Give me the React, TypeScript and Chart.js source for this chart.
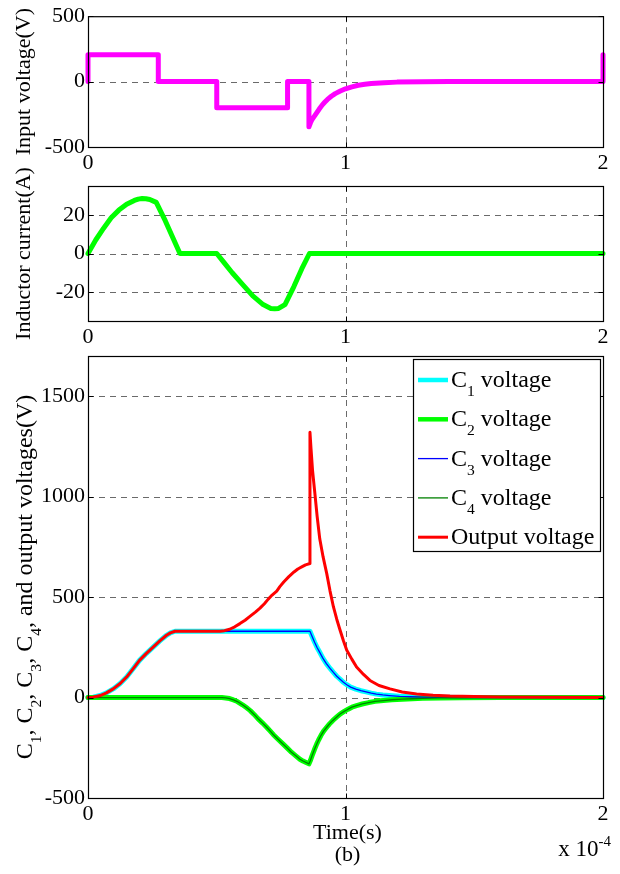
import React, { useEffect, useRef } from "react";
import { Chart, registerables } from "chart.js";

Chart.register(...registerables);

const SERIF = "'Liberation Serif', 'Times New Roman', Times, serif";

// ---------------- data (time axis in units of 1e-4 s) ----------------
const timeTicks = [0, 1, 2];

const inputTicks = [-500, 0, 500];
const inputTime = [0, 0, 0.273, 0.273, 0.5, 0.5, 0.775, 0.775, 0.858, 0.858, 0.864, 0.87, 0.878, 0.886, 0.898, 0.91, 0.92, 0.93, 0.945, 0.96, 0.98, 1.0, 1.025, 1.05, 1.075, 1.1, 1.15, 1.2, 1.3, 1.4, 2, 2];
const inputVoltage = [0, 205, 205, 0, 0, -200, -200, 0, 0, -345, -315, -290, -268, -245, -210, -178, -156, -136, -112, -92, -72, -55, -40, -28, -21, -15, -8, -4, -1, 0, 0, 205];

const currentTicks = [-20, 0, 20];
const currentTime = [0, 0.03, 0.06, 0.09, 0.12, 0.15, 0.18, 0.195, 0.21, 0.225, 0.24, 0.265, 0.3, 0.33, 0.357, 0.5, 0.53, 0.56, 0.6, 0.64, 0.68, 0.71, 0.725, 0.74, 0.765, 0.8, 0.83, 0.86, 2];
const inductorCurrent = [0, 7, 13, 18.5, 22.5, 25.5, 27.5, 28.2, 28.5, 28.4, 28, 26.5, 17, 8, 0, 0, -5, -10, -16, -22, -26.5, -28.5, -28.7, -28.5, -26.5, -17, -8, 0, 0];

const voltageTicks = [-500, 0, 500, 1000, 1500];
const c1Time = [0, 0.02, 0.047, 0.07, 0.098, 0.125, 0.15, 0.175, 0.2, 0.227, 0.254, 0.28, 0.305, 0.32, 0.338, 0.862, 0.87, 0.88, 0.89, 0.9, 0.912, 0.925, 0.94, 0.953, 0.966, 0.98, 0.992, 1.005, 1.02, 1.04, 1.06, 1.08, 1.1, 1.12, 1.145, 1.17, 1.21, 1.25, 1.3, 1.35, 1.45, 2];
const c1Voltage = [0, 2, 10, 22, 43, 70, 102, 143, 185, 220, 252, 283, 310, 322, 330, 330, 305, 275, 248, 225, 196, 170, 145, 125, 106, 90, 76, 64, 52, 42, 34, 28, 22, 17, 13, 10, 6, 4, 2, 1, 0, 0];
const c2Time = [0, 0.52, 0.535, 0.55, 0.565, 0.58, 0.6, 0.615, 0.63, 0.645, 0.66, 0.677, 0.694, 0.707, 0.72, 0.74, 0.758, 0.775, 0.79, 0.807, 0.823, 0.835, 0.845, 0.858, 0.864, 0.87, 0.879, 0.888, 0.896, 0.905, 0.915, 0.927, 0.938, 0.95, 0.965, 0.979, 0.995, 1.01, 1.025, 1.043, 1.065, 1.09, 1.115, 1.147, 1.18, 1.22, 1.26, 1.3, 1.37, 1.45, 1.6, 2];
const c2Voltage = [0, 0, -2, -5, -12, -20, -36, -50, -65, -84, -105, -126, -148, -166, -185, -210, -232, -253, -272, -290, -307, -316, -322, -330, -312, -290, -260, -232, -210, -188, -167, -148, -131, -115, -98, -82, -69, -58, -48, -40, -32, -25, -19, -15, -11, -8, -6, -4, -2, -1, 0, 0];
const c3Time = [0, 0.02, 0.047, 0.07, 0.098, 0.125, 0.15, 0.175, 0.2, 0.227, 0.254, 0.28, 0.305, 0.32, 0.338, 0.862, 0.87, 0.88, 0.89, 0.9, 0.912, 0.925, 0.94, 0.953, 0.966, 0.98, 0.992, 1.005, 1.02, 1.04, 1.06, 1.08, 1.1, 1.12, 1.145, 1.17, 1.21, 1.25, 1.3, 1.35, 1.45, 2];
const c3Voltage = [0, 2, 10, 22, 43, 70, 102, 143, 185, 220, 252, 283, 310, 322, 330, 330, 305, 275, 248, 225, 196, 170, 145, 125, 106, 90, 76, 64, 52, 42, 34, 28, 22, 17, 13, 10, 6, 4, 2, 1, 0, 0];
const c4Time = [0, 0.52, 0.535, 0.55, 0.565, 0.58, 0.6, 0.615, 0.63, 0.645, 0.66, 0.677, 0.694, 0.707, 0.72, 0.74, 0.758, 0.775, 0.79, 0.807, 0.823, 0.835, 0.845, 0.858, 0.864, 0.87, 0.879, 0.888, 0.896, 0.905, 0.915, 0.927, 0.938, 0.95, 0.965, 0.979, 0.995, 1.01, 1.025, 1.043, 1.065, 1.09, 1.115, 1.147, 1.18, 1.22, 1.26, 1.3, 1.37, 1.45, 1.6, 2];
const c4Voltage = [0, 0, -2, -5, -12, -20, -36, -50, -65, -84, -105, -126, -148, -166, -185, -210, -232, -253, -272, -290, -307, -316, -322, -330, -312, -290, -260, -232, -210, -188, -167, -148, -131, -115, -98, -82, -69, -58, -48, -40, -32, -25, -19, -15, -11, -8, -6, -4, -2, -1, 0, 0];
const outputTime = [0, 0.02, 0.047, 0.07, 0.098, 0.125, 0.15, 0.175, 0.2, 0.227, 0.254, 0.28, 0.305, 0.32, 0.338, 0.513, 0.53, 0.55, 0.57, 0.59, 0.61, 0.63, 0.65, 0.668, 0.685, 0.7, 0.715, 0.733, 0.745, 0.76, 0.78, 0.8, 0.815, 0.83, 0.845, 0.862, 0.862, 0.866, 0.872, 0.88, 0.89, 0.9, 0.913, 0.927, 0.94, 0.953, 0.966, 0.979, 0.992, 1.005, 1.025, 1.043, 1.07, 1.095, 1.13, 1.173, 1.22, 1.276, 1.34, 1.406, 1.5, 1.6, 1.8, 2];
const outputVoltage = [0, 2, 10, 22, 43, 70, 102, 143, 185, 220, 252, 283, 310, 322, 330, 330, 333, 340, 352, 368, 385, 405, 425, 445, 467, 490, 510, 530, 552, 575, 602, 625, 640, 650, 660, 667, 1320, 1240, 1130, 1030, 900, 790, 700, 618, 530, 452, 390, 335, 283, 235, 190, 152, 115, 85, 60, 43, 28, 18, 12, 8, 5, 3, 1, 0];

const seriesLabels = ["C1 voltage", "C2 voltage", "C3 voltage", "C4 voltage", "Output voltage"];

// ---------------- helpers ----------------
type Seg = { t: string; sub?: boolean; sup?: boolean };

const pts = (xs: number[], ys: number[]) => xs.map((x, i) => ({ x, y: ys[i] }));

function parseLabel(label: string): Seg[] {
  const m = /^C(\d)(.*)$/.exec(label);
  if (m) return [{ t: "C" }, { t: m[1], sub: true }, { t: m[2] }];
  return [{ t: label }];
}

function richWidth(ctx: CanvasRenderingContext2D, segs: Seg[], size: number) {
  let w = 0;
  for (const s of segs) {
    ctx.font = `${s.sub || s.sup ? size * 0.65 : size}px ${SERIF}`;
    w += ctx.measureText(s.t).width;
  }
  return w;
}

function drawRich(ctx: CanvasRenderingContext2D, segs: Seg[], x: number, baseline: number, size: number) {
  let cx = x;
  ctx.textAlign = "left";
  ctx.textBaseline = "alphabetic";
  for (const s of segs) {
    const fs = s.sub || s.sup ? size * 0.65 : size;
    ctx.font = `${fs}px ${SERIF}`;
    const dy = s.sub ? size * 0.38 : s.sup ? -size * 0.42 : 0;
    ctx.fillText(s.t, cx, baseline + dy);
    cx += ctx.measureText(s.t).width;
  }
}

const matlabAxes = {
  id: "matlabAxes",
  beforeDatasetsDraw(chart: any) {
    const { ctx, chartArea: a, scales } = chart;
    ctx.save();
    ctx.strokeStyle = "#6a6a6a";
    ctx.lineWidth = 1;
    ctx.setLineDash([6, 5]);
    for (const t of scales.x.ticks) {
      const px = Math.round(scales.x.getPixelForValue(t.value)) + 0.5;
      if (px > a.left + 3 && px < a.right - 3) {
        ctx.beginPath();
        ctx.moveTo(px, a.top);
        ctx.lineTo(px, a.bottom);
        ctx.stroke();
      }
    }
    for (const t of scales.y.ticks) {
      const py = Math.round(scales.y.getPixelForValue(t.value)) + 0.5;
      if (py > a.top + 3 && py < a.bottom - 3) {
        ctx.beginPath();
        ctx.moveTo(a.left, py);
        ctx.lineTo(a.right, py);
        ctx.stroke();
      }
    }
    ctx.restore();
  },
  afterDatasetsDraw(chart: any) {
    const { ctx, chartArea: a, scales } = chart;
    ctx.save();
    ctx.strokeStyle = "#000";
    ctx.lineWidth = 1.2;
    ctx.setLineDash([]);
    const L = a.left + 0.5, R = a.right + 0.5, T = a.top + 0.5, B = a.bottom + 0.5;
    ctx.strokeRect(L, T, R - L, B - T);
    ctx.lineWidth = 1;
    for (const t of scales.x.ticks) {
      const px = Math.round(scales.x.getPixelForValue(t.value)) + 0.5;
      ctx.beginPath();
      ctx.moveTo(px, B); ctx.lineTo(px, B - 5);
      ctx.moveTo(px, T); ctx.lineTo(px, T + 5);
      ctx.stroke();
    }
    for (const t of scales.y.ticks) {
      const py = Math.round(scales.y.getPixelForValue(t.value)) + 0.5;
      ctx.beginPath();
      ctx.moveTo(L, py); ctx.lineTo(L + 5, py);
      ctx.moveTo(R, py); ctx.lineTo(R - 5, py);
      ctx.stroke();
    }
    ctx.restore();
  },
  afterDraw(chart: any) {
    const opts = chart.options.plugins.matlabAxes || {};
    const { ctx, chartArea: a } = chart;
    ctx.save();
    ctx.fillStyle = "#000";
    if (opts.yTitle) {
      const size = opts.yTitleSize || 22;
      const segs: Seg[] = opts.yTitle;
      const w = richWidth(ctx, segs, size);
      ctx.translate(opts.yTitleX, (a.top + a.bottom) / 2);
      ctx.rotate(-Math.PI / 2);
      drawRich(ctx, segs, -w / 2, size * 0.33, size);
      ctx.setTransform(1, 0, 0, 1, 0, 0);
    }
    if (opts.bottomText) {
      const xs = chart.scales.x;
      const cx = xs.getPixelForValue(1) + 2;
      const size = 22;
      ctx.font = `${size}px ${SERIF}`;
      ctx.textAlign = "center";
      ctx.textBaseline = "middle";
      ctx.fillText("Time(s)", cx, a.bottom + 35);
      ctx.fillText("(b)", cx, a.bottom + 57);
      const segs: Seg[] = [{ t: "x 10" }, { t: "-4", sup: true }];
      const w = richWidth(ctx, segs, 23);
      drawRich(ctx, segs, a.right + 8 - w, a.bottom + 58, 23);
    }
    if (opts.legend) {
      const size = 24;
      const boxR = a.right - 3;
      const boxW = 187;
      const boxL = boxR - boxW;
      const boxT = a.top + 3;
      const rowH = 39.3;
      const boxH = 192;
      ctx.fillStyle = "#fff";
      ctx.fillRect(boxL, boxT, boxW, boxH);
      ctx.strokeStyle = "#000";
      ctx.lineWidth = 1.2;
      ctx.strokeRect(boxL + 0.5, boxT + 0.5, boxW, boxH);
      const dsets = chart.data.datasets;
      dsets.forEach((ds: any, i: number) => {
        const cy = boxT + 20 + i * rowH;
        ctx.strokeStyle = ds.borderColor;
        ctx.lineWidth = Math.min(ds.borderWidth, 4.5);
        ctx.beginPath();
        ctx.moveTo(boxL + 5, cy + 1);
        ctx.lineTo(boxL + 35, cy + 1);
        ctx.stroke();
        ctx.fillStyle = "#000";
        drawRich(ctx, parseLabel(ds.label), boxL + 38, cy + 8, size);
      });
    }
    ctx.restore();
  },
};

type PanelCfg = {
  top: number;
  height: number;
  areaTop: number;
  areaBottom: number;
  yMin: number;
  yMax: number;
  yTicks: number[];
  datasets: any[];
  pluginOpts: any;
};

function makeChart(canvas: HTMLCanvasElement, p: PanelCfg) {
  const tickFont = { family: SERIF, size: 22 };
  return new Chart(canvas, {
    type: "line",
    data: { datasets: p.datasets },
    options: {
      responsive: false,
      animation: false,
      events: [],
      layout: { padding: { top: p.areaTop, right: 17, left: 0, bottom: 0 } },
      elements: { point: { radius: 0 }, line: { tension: 0 } },
      plugins: {
        legend: { display: false },
        tooltip: { enabled: false },
        matlabAxes: p.pluginOpts,
      } as any,
      scales: {
        x: {
          type: "linear",
          min: 0,
          max: 2,
          afterBuildTicks: (s: any) => { s.ticks = timeTicks.map((v) => ({ value: v })); },
          afterFit: (s: any) => { s.height = p.height - p.areaBottom; },
          grid: { display: false, drawTicks: false },
          border: { display: false },
          ticks: { font: tickFont, color: "#000", padding: 3, maxRotation: 0, autoSkip: false, callback: (v: any) => String(v) },
        },
        y: {
          type: "linear",
          min: p.yMin,
          max: p.yMax,
          afterBuildTicks: (s: any) => { s.ticks = p.yTicks.map((v) => ({ value: v })); },
          afterFit: (s: any) => { s.width = 88; },
          grid: { display: false, drawTicks: false },
          border: { display: false },
          ticks: { font: tickFont, color: "#000", padding: 3, autoSkip: false, callback: (v: any) => String(v) },
        },
      },
    } as any,
    plugins: [matlabAxes as any],
  });
}

const lineDefaults = { pointRadius: 0, fill: false, borderJoinStyle: "round", borderCapStyle: "round", clip: 10 };

const panels: PanelCfg[] = [
  {
    top: 0, height: 180, areaTop: 13, areaBottom: 147,
    yMin: -500, yMax: 500, yTicks: inputTicks,
    datasets: [{ ...lineDefaults, label: "Input voltage", data: pts(inputTime, inputVoltage), borderColor: "#ff00ff", borderWidth: 5 }],
    pluginOpts: { yTitle: [{ t: "Input voltage(V)" }], yTitleX: 23, yTitleSize: 22 },
  },
  {
    top: 166, height: 190, areaTop: 20, areaBottom: 155,
    yMin: -35, yMax: 35, yTicks: currentTicks,
    datasets: [{ ...lineDefaults, label: "Inductor current", data: pts(currentTime, inductorCurrent), borderColor: "#00ff00", borderWidth: 5 }],
    pluginOpts: { yTitle: [{ t: "Inductor current(A)" }], yTitleX: 23, yTitleSize: 22 },
  },
  {
    top: 336, height: 538, areaTop: 20, areaBottom: 462,
    yMin: -500, yMax: 1700, yTicks: voltageTicks,
    datasets: [
      { ...lineDefaults, label: seriesLabels[0], data: pts(c1Time, c1Voltage), borderColor: "#00ffff", borderWidth: 5, order: 5 },
      { ...lineDefaults, label: seriesLabels[1], data: pts(c2Time, c2Voltage), borderColor: "#00ff00", borderWidth: 5, order: 4 },
      { ...lineDefaults, label: seriesLabels[2], data: pts(c3Time, c3Voltage), borderColor: "#0000ff", borderWidth: 1.3, order: 3 },
      { ...lineDefaults, label: seriesLabels[3], data: pts(c4Time, c4Voltage), borderColor: "#008000", borderWidth: 1.3, order: 2 },
      { ...lineDefaults, label: seriesLabels[4], data: pts(outputTime, outputVoltage), borderColor: "#ff0000", borderWidth: 3, order: 1 },
    ],
    pluginOpts: {
      yTitle: [
        { t: "C" }, { t: "1", sub: true }, { t: ", C" }, { t: "2", sub: true }, { t: ", C" }, { t: "3", sub: true },
        { t: ", C" }, { t: "4", sub: true }, { t: ", and output voltages(V)" },
      ],
      yTitleX: 24,
      yTitleSize: 24,
      legend: true,
      bottomText: true,
    },
  },
];

export default function App() {
  const refs = [useRef<HTMLCanvasElement>(null), useRef<HTMLCanvasElement>(null), useRef<HTMLCanvasElement>(null)];
  useEffect(() => {
    const charts = panels.map((p, i) => makeChart(refs[i].current as HTMLCanvasElement, p));
    return () => charts.forEach((c) => c.destroy());
  }, []);
  return (
    <div style={{ position: "fixed", left: 0, top: 0, width: 620, height: 874, background: "#fff" }}>
      {panels.map((p, i) => (
        <canvas
          key={i}
          ref={refs[i]}
          width={620}
          height={p.height}
          style={{ position: "absolute", left: 0, top: p.top, width: 620, height: p.height }}
        />
      ))}
    </div>
  );
}
